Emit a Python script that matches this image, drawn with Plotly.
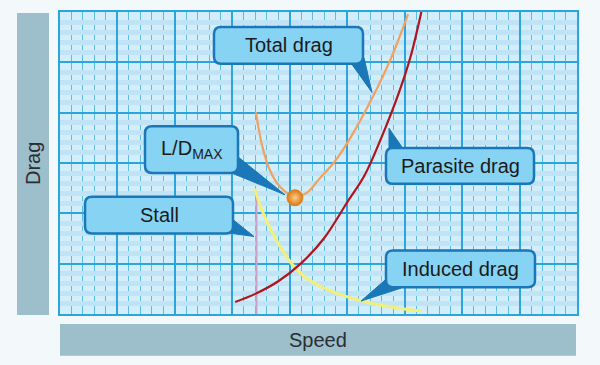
import plotly.graph_objects as go

# ---------------- data (axis units: speed 0..9, drag 0..6) ----------------
total_speed = [3.41, 3.52, 3.66, 3.83, 4.09, 4.30, 4.51, 4.79, 5.05, 5.43, 5.75, 6.06]
total_drag = [4.01, 3.34, 2.84, 2.53, 2.33, 2.41, 2.68, 3.04, 3.49, 4.28, 5.05, 5.96]

parasite_speed = [3.05, 3.40, 3.80, 4.20, 4.60, 5.00, 5.30, 5.60, 5.90, 6.10, 6.29]
parasite_drag = [0.24, 0.40, 0.65, 1.01, 1.51, 2.22, 2.75, 3.52, 4.40, 5.10, 6.00]

induced_speed = [3.39, 3.52, 3.66, 3.83, 4.04, 4.27, 4.53, 4.87, 5.40, 5.87, 6.30]
induced_drag = [2.49, 2.05, 1.70, 1.34, 0.99, 0.73, 0.55, 0.39, 0.22, 0.12, 0.06]

stall_speed = [3.42, 3.42]
stall_drag = [0.0, 2.38]

ldmax_speed = [4.09]
ldmax_drag = [2.31]

x_label = "Speed"
y_label = "Drag"
callout_texts = ["Total drag", "L/D<sub>MAX</sub>", "Parasite drag", "Stall", "Induced drag"]

# ---------------- layout geometry ----------------
W, H = 600, 365
L, R, T, B = 60, 577, 10, 314   # plot area in pixels


def px(x):
    return (x - L) / (R - L)


def py(y):
    return (B - y) / (B - T)


BOX_FILL = "#86d3f3"
BOX_LINE = "#1a78b8"
FONT = "Liberation Sans, Arial, sans-serif"

fig = go.Figure()

fig.add_trace(go.Scatter(x=stall_speed, y=stall_drag, mode="lines",
                         line=dict(color="#c9a2cc", width=2), hoverinfo="skip"))
fig.add_trace(go.Scatter(x=induced_speed, y=induced_drag, mode="lines",
                         line=dict(color="#f2f07a", width=3, shape="spline"), hoverinfo="skip"))
fig.add_trace(go.Scatter(x=parasite_speed, y=parasite_drag, mode="lines",
                         line=dict(color="#b0141e", width=2.2, shape="spline"), hoverinfo="skip"))
fig.add_trace(go.Scatter(x=total_speed, y=total_drag, mode="lines",
                         line=dict(color="#f2a15e", width=2.2, shape="spline"), hoverinfo="skip"))
fig.add_trace(go.Scatter(x=ldmax_speed, y=ldmax_drag, mode="markers",
                         marker=dict(size=16, color="#dc7612",
                                     gradient=dict(type="radial", color="#fbcf8e"),
                                     line=dict(color="#d9861e", width=1)),
                         hoverinfo="skip"))

shapes = []


def rounded_box(x0, y0, x1, y1, r=7):
    def P(x, y):
        return f"{px(x):.5f},{py(y):.5f}"
    return (f"M {P(x0 + r, y0)} L {P(x1 - r, y0)} Q {P(x1, y0)} {P(x1, y0 + r)} "
            f"L {P(x1, y1 - r)} Q {P(x1, y1)} {P(x1 - r, y1)} "
            f"L {P(x0 + r, y1)} Q {P(x0, y1)} {P(x0, y1 - r)} "
            f"L {P(x0, y0 + r)} Q {P(x0, y0)} {P(x0 + r, y0)} Z")


def tri(p1, p2, p3):
    return "M " + " L ".join(f"{px(a):.5f},{py(b):.5f}" for a, b in (p1, p2, p3)) + " Z"


boxes = [
    ((214, 25, 363, 62), [(350, 60), (364, 56), (372, 91)], (288.5, 43.5)),
    ((145, 125, 238, 172), [(237, 155), (229, 171), (285, 194)], (191.5, 148.5)),
    ((386, 147, 534, 183), [(389, 127), (389, 149), (404, 149)], (460, 165)),
    ((85, 196, 233, 233), [(233, 219), (226, 232), (254, 236)], (159, 214.5)),
    ((386, 250, 535, 287), [(361, 301), (386, 279), (401, 288)], (460.5, 268.5)),
]

for (x0, y0, x1, y1), t, _ in boxes:
    shapes.append(dict(type="path", xref="paper", yref="paper", path=tri(*t),
                       fillcolor=BOX_LINE, line=dict(color=BOX_LINE, width=1), layer="above"))
    shapes.append(dict(type="path", xref="paper", yref="paper", path=rounded_box(x0, y0, x1, y1),
                       fillcolor=BOX_FILL, line=dict(color=BOX_LINE, width=2.5), layer="above"))

# axis title bars
shapes.append(dict(type="rect", xref="paper", yref="paper", x0=px(17), x1=px(49), y0=py(315), y1=py(11),
                   fillcolor="#9dbecb", line=dict(width=0), layer="below"))
shapes.append(dict(type="rect", xref="paper", yref="paper", x0=px(60), x1=px(576), y0=py(356), y1=py(324),
                   fillcolor="#9dbecb", line=dict(width=0), layer="below"))

annotations = []
for (_, _, (cx, cy)), txt in zip(boxes, callout_texts):
    annotations.append(dict(x=px(cx), y=py(cy), xref="paper", yref="paper", text=txt, showarrow=False,
                            font=dict(family=FONT, size=20, color="#1b1b1b"),
                            xanchor="center", yanchor="middle"))
annotations.append(dict(x=px(318), y=py(340), xref="paper", yref="paper", text=x_label, showarrow=False,
                        font=dict(family=FONT, size=20, color="#2a2f33"), xanchor="center", yanchor="middle"))
annotations.append(dict(x=px(33), y=py(163), xref="paper", yref="paper", text=y_label, showarrow=False,
                        textangle=-90,
                        font=dict(family=FONT, size=20, color="#2a2f33"), xanchor="center", yanchor="middle"))

GRID_MAJOR = "#2ba5dd"
fig.update_layout(
    width=W, height=H,
    margin=dict(l=L, r=W - R, t=T, b=H - B, pad=0),
    paper_bgcolor="#f3f8fb",
    plot_bgcolor="#d3eefb",
    showlegend=False,
    hovermode=False,
    shapes=shapes,
    annotations=annotations,
    xaxis=dict(range=[0, 9], dtick=1, showticklabels=False, ticks="", zeroline=False,
               showgrid=True, gridcolor=GRID_MAJOR, gridwidth=2,
               showline=True, linecolor=GRID_MAJOR, linewidth=2, mirror=True,
               minor=dict(dtick=0.2, showgrid=True, gridcolor="#5cbde8", gridwidth=1, ticks="")),
    yaxis=dict(range=[0, 6], dtick=1, showticklabels=False, ticks="", zeroline=False,
               showgrid=True, gridcolor=GRID_MAJOR, gridwidth=2,
               showline=True, linecolor=GRID_MAJOR, linewidth=2, mirror=True,
               minor=dict(dtick=0.2, showgrid=True, gridcolor="#c0e4f6", gridwidth=5, ticks="")),
)

fig.write_html("out.html", config={"displayModeBar": False, "staticPlot": True},
               post_script="document.body.style.margin='0px';document.body.style.background='#f3f8fb';")
